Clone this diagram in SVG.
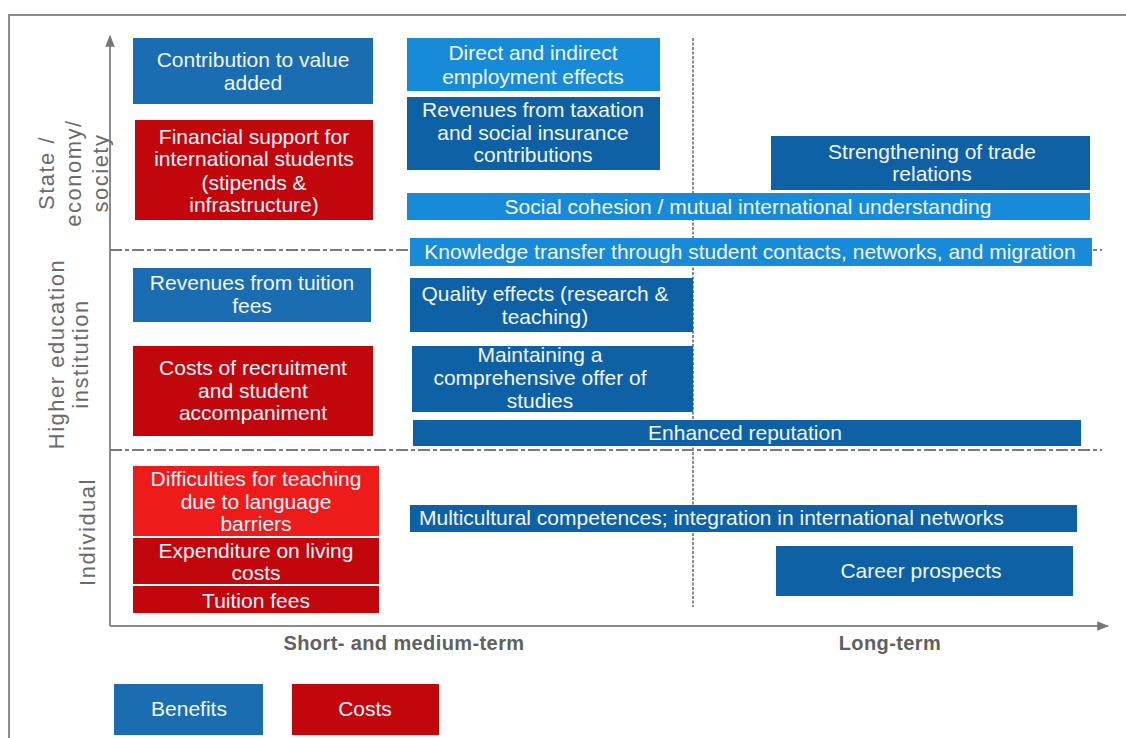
<svg xmlns="http://www.w3.org/2000/svg" width="1126" height="738" viewBox="0 0 1126 738">
<defs>
<style>
.b1{fill:#1b6db1}
.b2{fill:#0f61a5}
.b3{fill:#178bd8}
.r1{fill:#c2070c}
.r2{fill:#ee1b1b}
.t{font-family:"Liberation Sans",Arial,sans-serif;font-size:21px;fill:#f2f6ff;text-anchor:middle;letter-spacing:0px}
.ax{font-family:"Liberation Sans",Arial,sans-serif;font-size:20px;font-weight:bold;fill:#606060;text-anchor:middle;letter-spacing:0.4px}
.lab{font-family:"Liberation Sans",Arial,sans-serif;font-size:22px;fill:#6a6a6a;text-anchor:middle;letter-spacing:1.5px}
.hd{stroke:#7a7a7a;stroke-width:2;stroke-dasharray:12 3 4 3;fill:none}
.vd{stroke:#8a8a8a;stroke-width:2;stroke-dasharray:3 1.5;fill:none}
.axis{stroke:#8a8a8a;stroke-width:2;fill:none}
</style>
<marker id="ah" viewBox="0 0 10 10" refX="9" refY="5" markerWidth="6" markerHeight="6" orient="auto-start-reverse" markerUnits="strokeWidth">
<path d="M0,1 L10,5 L0,9 Z" fill="#777"/>
</marker>
</defs>
<rect width="1126" height="738" fill="#ffffff"/>
<path d="M9,738 V15 H1126" fill="none" stroke="#8c8c8c" stroke-width="2"/>

<g id="connectors">
<path class="axis" d="M110,626 V36" marker-end="url(#ah)"/>
<path class="axis" d="M110,626 H1108" marker-end="url(#ah)"/>
<path class="hd" d="M110,250 H1102"/>
<path class="hd" d="M110,450 H1102"/>
<path class="vd" d="M693,38 V607"/>
</g>

<g id="rowlabels">
<g id="lab-state" transform="translate(73,173) rotate(-90)">
<text class="lab" x="0" y="-19">State /</text>
<text class="lab" x="0" y="8">economy/</text>
<text class="lab" x="0" y="35">society</text>
</g>
<g id="lab-hei" transform="translate(68,354) rotate(-90)">
<text class="lab" x="0" y="-4">Higher education</text>
<text class="lab" x="0" y="20">institution</text>
</g>
<g id="lab-ind" transform="translate(87,532) rotate(-90)">
<text class="lab" x="0" y="8">Individual</text>
</g>
</g>

<g id="n1"><rect class="b1" x="133" y="38" width="240" height="66"/>
<text class="t" x="253" y="67">Contribution to value</text><text class="t" x="253" y="90">added</text></g>
<g id="n2"><rect class="r1" x="135" y="120" width="238" height="100"/>
<text class="t" x="254" y="144">Financial support for</text><text class="t" x="254" y="166">international students</text><text class="t" x="254" y="190">(stipends &amp;</text><text class="t" x="254" y="212">infrastructure)</text></g>
<g id="n3"><rect class="b3" x="407" y="38" width="253" height="53"/>
<text class="t" x="533" y="60">Direct and indirect</text><text class="t" x="533" y="84">employment effects</text></g>
<g id="n4"><rect class="b2" x="407" y="97" width="253" height="73"/>
<text class="t" x="533" y="117">Revenues from taxation</text><text class="t" x="533" y="140">and social insurance</text><text class="t" x="533" y="162">contributions</text></g>
<g id="n5"><rect class="b2" x="771" y="136" width="319" height="54"/>
<text class="t" x="932" y="159">Strengthening of trade</text><text class="t" x="932" y="181">relations</text></g>
<g id="n6"><rect class="b3" x="407" y="193" width="683" height="27"/>
<text class="t" x="748" y="214">Social cohesion / mutual international understanding</text></g>
<g id="n7"><rect class="b3" x="410" y="238" width="682" height="28"/>
<text class="t" x="750" y="259">Knowledge transfer through student contacts, networks, and migration</text></g>
<g id="n8"><rect class="b1" x="133" y="268" width="238" height="54"/>
<text class="t" x="252" y="290">Revenues from tuition</text><text class="t" x="252" y="313">fees</text></g>
<g id="n9"><rect class="b2" x="410" y="278" width="283" height="54"/>
<text class="t" x="545" y="301">Quality effects (research &amp;</text><text class="t" x="545" y="324">teaching)</text></g>
<g id="n10"><rect class="b2" x="412" y="346" width="281" height="66"/>
<text class="t" x="540" y="362">Maintaining a</text><text class="t" x="540" y="385">comprehensive offer of</text><text class="t" x="540" y="408">studies</text></g>
<g id="n11"><rect class="r1" x="133" y="346" width="240" height="90"/>
<text class="t" x="253" y="375">Costs of recruitment</text><text class="t" x="253" y="398">and student</text><text class="t" x="253" y="420">accompaniment</text></g>
<g id="n12"><rect class="b2" x="413" y="420" width="668" height="26"/>
<text class="t" x="745" y="440">Enhanced reputation</text></g>
<g id="n13"><rect class="r2" x="133" y="466" width="246" height="70"/>
<text class="t" x="256" y="486">Difficulties for teaching</text><text class="t" x="256" y="509">due to language</text><text class="t" x="256" y="531">barriers</text></g>
<g id="n14"><rect class="r1" x="133" y="538" width="246" height="46"/>
<text class="t" x="256" y="558">Expenditure on living</text><text class="t" x="256" y="580">costs</text></g>
<g id="n15"><rect class="r1" x="133" y="586" width="246" height="27"/>
<text class="t" x="256" y="608">Tuition fees</text></g>
<g id="n16"><rect class="b2" x="410" y="505" width="667" height="27"/>
<text class="t" x="419" y="525" style="text-anchor:start">Multicultural competences; integration in international networks</text></g>
<g id="n17"><rect class="b2" x="776" y="546" width="297" height="50"/>
<text class="t" x="921" y="578">Career prospects</text></g>

<g id="axislabels">
<text class="ax" x="404" y="650">Short- and medium-term</text>
<text class="ax" x="890" y="650">Long-term</text>
</g>

<g id="legend">
<g id="leg-benefits"><rect class="b1" x="114" y="684" width="149" height="51"/>
<text class="t" x="189" y="716">Benefits</text></g>
<g id="leg-costs"><rect class="r1" x="292" y="684" width="147" height="51"/>
<text class="t" x="365" y="716">Costs</text></g>
</g>
</svg>
